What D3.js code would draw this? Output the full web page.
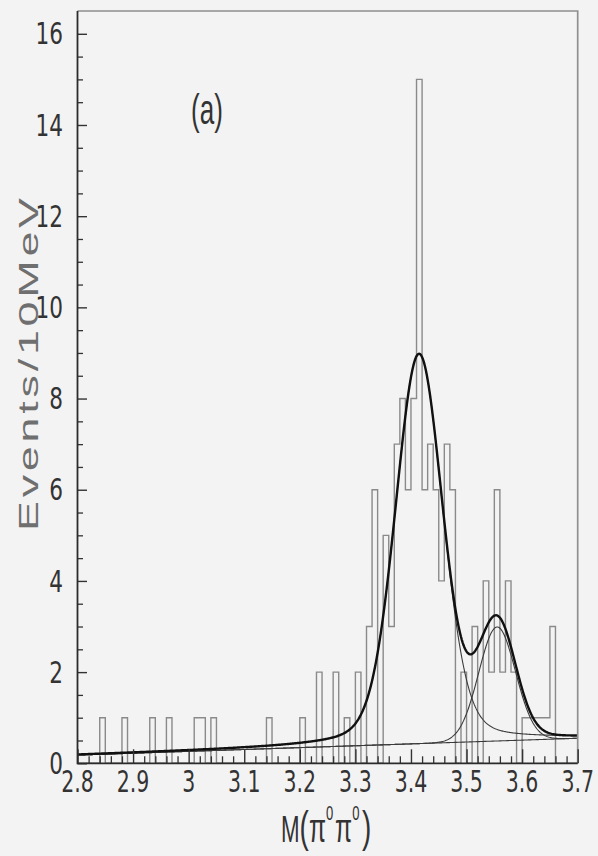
<!DOCTYPE html>
<html>
<head>
<meta charset="utf-8">
<script src="https://cdn.jsdelivr.net/npm/d3@7"></script>
<style>
  html, body { margin: 0; padding: 0; background: #f3f3f3; }
  svg { display: block; }
</style>
</head>
<body>
<svg id="chart" width="598" height="856"></svg>
<script>
// Occupied 10 MeV bins: lower edge (GeV) and number of entries
const binLowEdge = [2.84, 2.88, 2.93, 2.96, 3.01, 3.02, 3.04, 3.14, 3.20, 3.23,
                    3.26, 3.28, 3.30, 3.32, 3.33, 3.35, 3.36, 3.37, 3.38, 3.39,
                    3.40, 3.41, 3.42, 3.43, 3.44, 3.45, 3.46, 3.47, 3.49, 3.51,
                    3.53, 3.54, 3.55, 3.56, 3.57, 3.58, 3.60, 3.61, 3.62, 3.63,
                    3.64, 3.65];
const binCount   = [1, 1, 1, 1, 1, 1, 1, 1, 1, 2,
                    2, 1, 2, 3, 6, 5, 3, 7, 8, 6,
                    8, 15, 6, 7, 6, 4, 7, 6, 2, 3,
                    4, 2, 6, 2, 4, 2, 1, 1, 1, 1,
                    1, 3];
const binWidth = 0.01;
const massRange = [2.8, 3.7];
const countRange = [0, 16.5];

// Fit result: linear background (level at 2.8 GeV, slope per GeV)
const backgroundLevel = [0.18, 0.41];
// Two resonances: centre, height, gaussian sigma, lorentzian share and half width
const peakMass = [3.4145, 3.555];
const peakHeight = [8.55, 2.5];
const peakSigma = [0.042, 0.033];
const peakTailShare = [0.2, 0.0];
const peakTailWidth = [0.055, 0.03];

// Axis ticks and labels
const xTicks = [2.8, 2.9, 3.0, 3.1, 3.2, 3.3, 3.4, 3.5, 3.6, 3.7];
const xTickLabels = ["2.8", "2.9", "3", "3.1", "3.2", "3.3", "3.4", "3.5", "3.6", "3.7"];
const xMinorStep = 0.02;
const yTicks = [0, 2, 4, 6, 8, 10, 12, 14, 16];
const yTickLabels = ["0", "2", "4", "6", "8", "10", "12", "14", "16"];
const yMinorStep = 0.5;

const panelTag = "(a)";
const yTitle = "Events/10MeV";

const svg = d3.select("#chart");
const plotLeft = 77.5, plotRight = 577.7, plotTop = 11, plotBottom = 763.3;

const x = d3.scaleLinear().domain(massRange).range([plotLeft, plotRight]);
const y = d3.scaleLinear().domain(countRange).range([plotBottom, plotTop]);

// ---------- histogram outline ----------
const nBins = Math.round((massRange[1] - massRange[0]) / binWidth);
const counts = new Array(nBins).fill(0);
binLowEdge.forEach((e, i) => {
  counts[Math.round((e - massRange[0]) / binWidth)] = binCount[i];
});
const steps = counts.map((c, i) => [massRange[0] + i * binWidth, c]);
steps.push([massRange[1], 0]);
const histLine = d3.line()
  .x(d => x(d[0])).y(d => y(d[1]))
  .curve(d3.curveStepAfter);
svg.append("path")
  .attr("d", histLine([[massRange[0], 0], ...steps]))
  .attr("fill", "none")
  .attr("stroke", "#8a8a8a")
  .attr("stroke-width", 1.4);

// ---------- fit curves ----------
function background(m) { return backgroundLevel[0] + backgroundLevel[1] * (m - massRange[0]); }
function peak(k, m) {
  const d = m - peakMass[k];
  const g = Math.exp(-d * d / (2 * peakSigma[k] * peakSigma[k]));
  const l = 1 / (1 + (d / peakTailWidth[k]) * (d / peakTailWidth[k]));
  return peakHeight[k] * ((1 - peakTailShare[k]) * g + peakTailShare[k] * l);
}
const masses = d3.range(massRange[0], massRange[1] + 1e-9, 0.0015);
const fitLine = d3.line().x(d => x(d[0])).y(d => y(d[1]));
const thin = [
  masses.map(m => [m, background(m)]),
  masses.map(m => [m, background(m) + peak(0, m)]),
  masses.map(m => [m, background(m) + peak(1, m)])
];
svg.append("g").selectAll("path").data(thin).join("path")
  .attr("d", fitLine)
  .attr("fill", "none")
  .attr("stroke", "#3a3a3a")
  .attr("stroke-width", 1.1);
svg.append("path")
  .attr("d", fitLine(masses.map(m => [m, background(m) + peak(0, m) + peak(1, m)])))
  .attr("fill", "none")
  .attr("stroke", "#111")
  .attr("stroke-width", 2.4)
  .attr("stroke-linejoin", "round");

// ---------- frame and axes ----------
svg.append("path")
  .attr("d", `M${plotLeft},${plotTop}H${plotRight}V${plotBottom}`)
  .attr("fill", "none").attr("stroke", "#8f8f8f").attr("stroke-width", 1.7);

const yMinor = d3.range(0, countRange[1], yMinorStep).filter(v => v % 2 !== 0);
svg.append("g").attr("transform", `translate(${plotLeft},0)`)
  .call(d3.axisRight(y).tickValues(yMinor).tickSize(5.5).tickFormat(""))
  .call(g => g.select(".domain").remove())
  .call(g => g.selectAll("line").attr("stroke", "#333").attr("stroke-width", 1.3));
svg.append("g").attr("transform", `translate(${plotLeft},0)`)
  .call(d3.axisRight(y).tickValues(yTicks).tickSize(9.5).tickFormat(""))
  .call(g => g.select(".domain").remove())
  .call(g => g.selectAll("line").attr("stroke", "#333").attr("stroke-width", 1.4));

const xMinor = d3.range(massRange[0], massRange[1] + 1e-9, xMinorStep)
  .filter(v => Math.abs(v * 10 - Math.round(v * 10)) > 1e-6);
svg.append("g").attr("transform", `translate(0,${plotBottom})`)
  .call(d3.axisTop(x).tickValues(xMinor).tickSize(7).tickFormat(""))
  .call(g => g.select(".domain").remove())
  .call(g => g.selectAll("line").attr("stroke", "#333").attr("stroke-width", 1.3));
svg.append("g").attr("transform", `translate(0,${plotBottom})`)
  .call(d3.axisTop(x).tickValues(xTicks).tickSize(14).tickFormat(""))
  .call(g => g.select(".domain").remove())
  .call(g => g.selectAll("line").attr("stroke", "#333").attr("stroke-width", 1.4));

svg.append("path")
  .attr("d", `M${plotLeft},${plotTop}V${plotBottom}H${plotRight}`)
  .attr("fill", "none").attr("stroke", "#2b2b2b").attr("stroke-width", 1.8);

// ---------- tick labels (narrow lettering) ----------
const tickFont = "'Liberation Sans Narrow', 'DejaVu Sans Condensed', 'Liberation Sans', sans-serif";
svg.append("g").selectAll("text").data(yTicks).join("text")
  .attr("transform", d => `translate(63,${y(d) + 10.6}) scale(0.8,1)`)
  .attr("text-anchor", "end")
  .attr("font-family", tickFont)
  .attr("font-size", 30)
  .attr("fill", "#333")
  .text((d, i) => yTickLabels[i]);

svg.append("g").selectAll("text").data(xTicks).join("text")
  .attr("transform", d => `translate(${x(d)},792) scale(0.76,1)`)
  .attr("text-anchor", "middle")
  .attr("font-family", tickFont)
  .attr("font-size", 30)
  .attr("fill", "#333")
  .text((d, i) => xTickLabels[i]);

// ---------- titles ----------
const xt = svg.append("text")
  .attr("transform", "translate(281,842) scale(0.62,1)")
  .attr("font-family", "'Liberation Sans', Arial, sans-serif")
  .attr("fill", "#333");
xt.append("tspan").attr("font-size", 36).text("M");
xt.append("tspan").attr("font-size", 45).text("(");
xt.append("tspan").attr("font-size", 40).text("π");
xt.append("tspan").attr("font-size", 21).attr("dy", -22).text("0");
xt.append("tspan").attr("font-size", 40).attr("dy", 22).attr("dx", 3).text("π");
xt.append("tspan").attr("font-size", 21).attr("dy", -22).text("0");
xt.append("tspan").attr("font-size", 45).attr("dy", 22).attr("dx", 4).text(")");

svg.append("text")
  .attr("transform", "translate(38,531) rotate(-90) scale(1.6,1)")
  .attr("font-family", "'Liberation Sans', Arial, sans-serif")
  .attr("font-size", 28)
  .attr("fill", "#6f6f6f")
  .attr("textLength", 333 / 1.6)
  .attr("lengthAdjust", "spacing")
  .text(yTitle);

svg.append("text")
  .attr("transform", "translate(207,124) scale(0.62,1)")
  .attr("text-anchor", "middle")
  .attr("font-family", "'Liberation Sans', Arial, sans-serif")
  .attr("font-size", 42)
  .attr("fill", "#333")
  .text(panelTag);
</script>
</body>
</html>
